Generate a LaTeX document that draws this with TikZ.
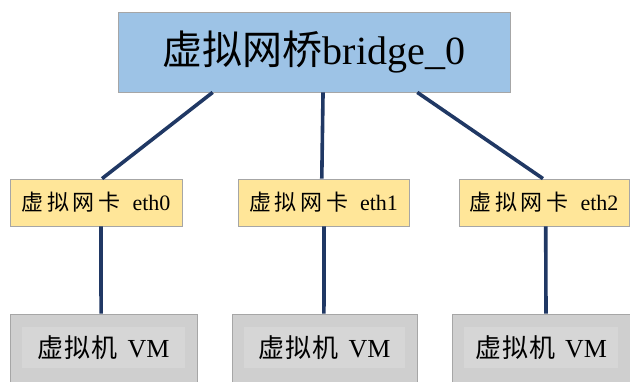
\documentclass[tikz,border=0pt]{standalone}
\usepackage{fontspec}
\setmainfont{Liberation Serif}
\newfontfamily\cjk{Noto Sans CJK SC}
\usetikzlibrary{calc}

\definecolor{bridgefill}{HTML}{9DC3E6}
\definecolor{nicfill}{HTML}{FFE699}
\definecolor{vmfill}{HTML}{CFCFCF}
\definecolor{vminner}{HTML}{D6D6D6}
\definecolor{boxline}{HTML}{A6A6A6}
\definecolor{link}{HTML}{203864}

\tikzset{
  box/.style={draw=boxline, line width=0.8pt, inner sep=0pt, align=center},
  bridgebox/.style={box, fill=bridgefill, minimum width=392pt, minimum height=80pt,
    font=\fontsize{40}{44}\selectfont},
  nicbox/.style={box, fill=nicfill, minimum height=47pt,
    font=\fontsize{22}{26}\selectfont},
  vmbox/.style={box, fill=vmfill, minimum height=68pt,
    font=\fontsize{26}{30}\selectfont,
    path picture={\fill[vminner]
      ($(path picture bounding box.south west)+(12pt,14pt)$) rectangle
      ($(path picture bounding box.north east)+(-12pt,-13pt)$);}},
  wire/.style={draw=link, line width=3.6pt}
}

\begin{document}
\begin{tikzpicture}[x=1pt,y=-1pt]
  \useasboundingbox (0,0) rectangle (630,381);
  \clip (0,0) rectangle (630,381);

  % bridge
  \node[bridgebox] (bridge) at (314,52) {{\cjk 虚拟网桥}bridge\_0};

  % virtual NICs
  \node[nicbox, minimum width=172pt] (eth0) at (96,202.5) {{\cjk 虚\,拟\,网\,卡}\hspace{12pt}eth0};
  \node[nicbox, minimum width=171pt] (eth1) at (323.5,202.5) {{\cjk 虚\,拟\,网\,卡}\hspace{12pt}eth1};
  \node[nicbox, minimum width=170pt] (eth2) at (544,202.5) {{\cjk 虚\,拟\,网\,卡}\hspace{12pt}eth2};

  % virtual machines
  \node[vmbox, minimum width=187pt] (vm0) at (103.5,348) {{\cjk 虚\hspace{1pt}拟\hspace{1pt}机}\hspace{10pt}VM};
  \node[vmbox, minimum width=185pt] (vm1) at (324.5,348) {{\cjk 虚\hspace{1pt}拟\hspace{1pt}机}\hspace{10pt}VM};
  \node[vmbox, minimum width=178pt] (vm2) at (541,348) {{\cjk 虚\hspace{1pt}拟\hspace{1pt}机}\hspace{10pt}VM};

  % bridge to NICs
  \draw[wire] ($(bridge.south west)!0.242!(bridge.south east)$) -- ($(eth0.north west)!0.535!(eth0.north east)$);
  \draw[wire] ($(bridge.south west)!0.523!(bridge.south east)$) -- ($(eth1.north west)!0.49!(eth1.north east)$);
  \draw[wire] ($(bridge.south west)!0.763!(bridge.south east)$) -- ($(eth2.north west)!0.494!(eth2.north east)$);

  % NICs to VMs
  \draw[wire] ($(eth0.south west)!0.529!(eth0.south east)$) -- ($(vm0.north west)!0.487!(vm0.north east)$);
  \draw[wire] ($(eth1.south west)!0.503!(eth1.south east)$) -- ($(vm1.north west)!0.497!(vm1.north east)$);
  \draw[wire] ($(eth2.south west)!0.51!(eth2.south east)$) -- ($(vm2.north west)!0.528!(vm2.north east)$);
\end{tikzpicture}
\end{document}
